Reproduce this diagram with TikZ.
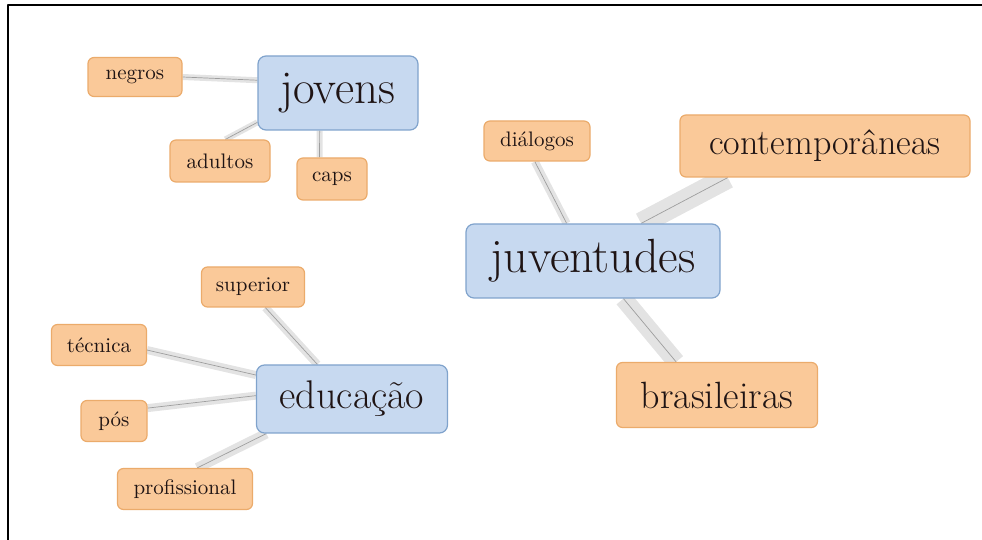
\documentclass[tikz,border=0pt]{standalone}
\usepackage{xcolor}
\usepackage{tikz}
\usetikzlibrary{backgrounds}
\definecolor{ccddff}{rgb}{0.78,0.85,0.94}
\definecolor{aaccee}{rgb}{0.50,0.64,0.80}
\definecolor{ffcc99}{rgb}{0.98,0.79,0.60}
\definecolor{eeaa66}{rgb}{0.92,0.67,0.42}
\definecolor{eeeeee}{rgb}{0.89,0.89,0.89}
\definecolor{aaaaaa}{rgb}{0.62,0.62,0.62}
\definecolor{txtdark}{rgb}{0.12,0.08,0.08}
\tikzset{
  hub/.style={draw=aaccee,fill=ccddff,rounded corners=4pt,line width=0.6pt,inner sep=0pt,text=txtdark},
  leaf/.style={draw=eeaa66,fill=ffcc99,rounded corners=3pt,line width=0.6pt,inner sep=0pt,text=txtdark},
  small/.style={leaf,font=\fontsize{10.5}{12}\selectfont},
  link/.style={draw=aaaaaa,line width=0.35pt,preaction={draw=eeeeee,line width=#1}},
}

\begin{document}
\begin{tikzpicture}[line cap=round,line join=round,x=0.5pt,y=-0.5pt]
  \useasboundingbox (0,0) rectangle (982,540);
  % frame
  \draw [line width=1pt,line cap=rect] (8,540) -- (8,5) -- (982,5);
  % jovens
  \node[hub,minimum width=80pt,minimum height=37pt,font=\fontsize{23.5}{26}\selectfont] (jovens) at (338,93) {jovens};
  \node[small,minimum width=47pt,minimum height=19.5pt] (negros) at (135,77) {negros};
  \node[small,minimum width=50pt,minimum height=21pt] (adultos) at (220,161) {adultos};
  \node[small,minimum width=35pt,minimum height=21pt] (caps) at (332,179) {caps};
  % juventudes
  \node[hub,minimum width=127pt,minimum height=37pt,font=\fontsize{24}{27}\selectfont] (juventudes) at (593,261) {juventudes};
  \node[small,minimum width=53pt,minimum height=20pt] (dialogos) at (537,141) {diálogos};
  \node[leaf,minimum width=145pt,minimum height=31pt,font=\fontsize{18}{21}\selectfont] (contemp) at (825,146) {contemporâneas};
  \node[leaf,minimum width=100.5pt,minimum height=32.5pt,font=\fontsize{19}{22}\selectfont] (brasileiras) at (717,395) {brasileiras};
  % educação
  \node[hub,minimum width=95.5pt,minimum height=34pt,font=\fontsize{20}{23}\selectfont] (educacao) at (352,399) {educação};
  \node[small,minimum width=51.5pt,minimum height=20pt] (superior) at (253,287) {superior};
  \node[small,minimum width=47.5pt,minimum height=20.5pt] (tecnica) at (99,345) {técnica};
  \node[small,minimum width=33pt,minimum height=20.5pt] (pos) at (114,421) {pós};
  \node[small,minimum width=67.5pt,minimum height=20.5pt] (profissional) at (185,489) {profissional};
  % links
  \begin{pgfonlayer}{background}
    \draw [link=3pt] (negros.east) -- (jovens.171);
    \draw [link=3pt] (adultos.76) -- (jovens.200);
    \draw [link=3pt] (caps.120) -- (jovens.244);
    \draw [link=4pt] (dialogos.264) -- (juventudes.125);
    \draw [link=11pt] (contemp.198) -- (juventudes.38);
    \draw [link=9pt] (brasileiras.141) -- (juventudes.309);
    \draw [link=4pt] (superior.301) -- (educacao.135);
    \draw [link=4pt] (tecnica.354) -- (educacao.166);
    \draw [link=4pt] (pos.21) -- (educacao.178);
    \draw [link=5pt] (profissional.60) -- (educacao.202);
  \end{pgfonlayer}
\end{tikzpicture}
\end{document}
